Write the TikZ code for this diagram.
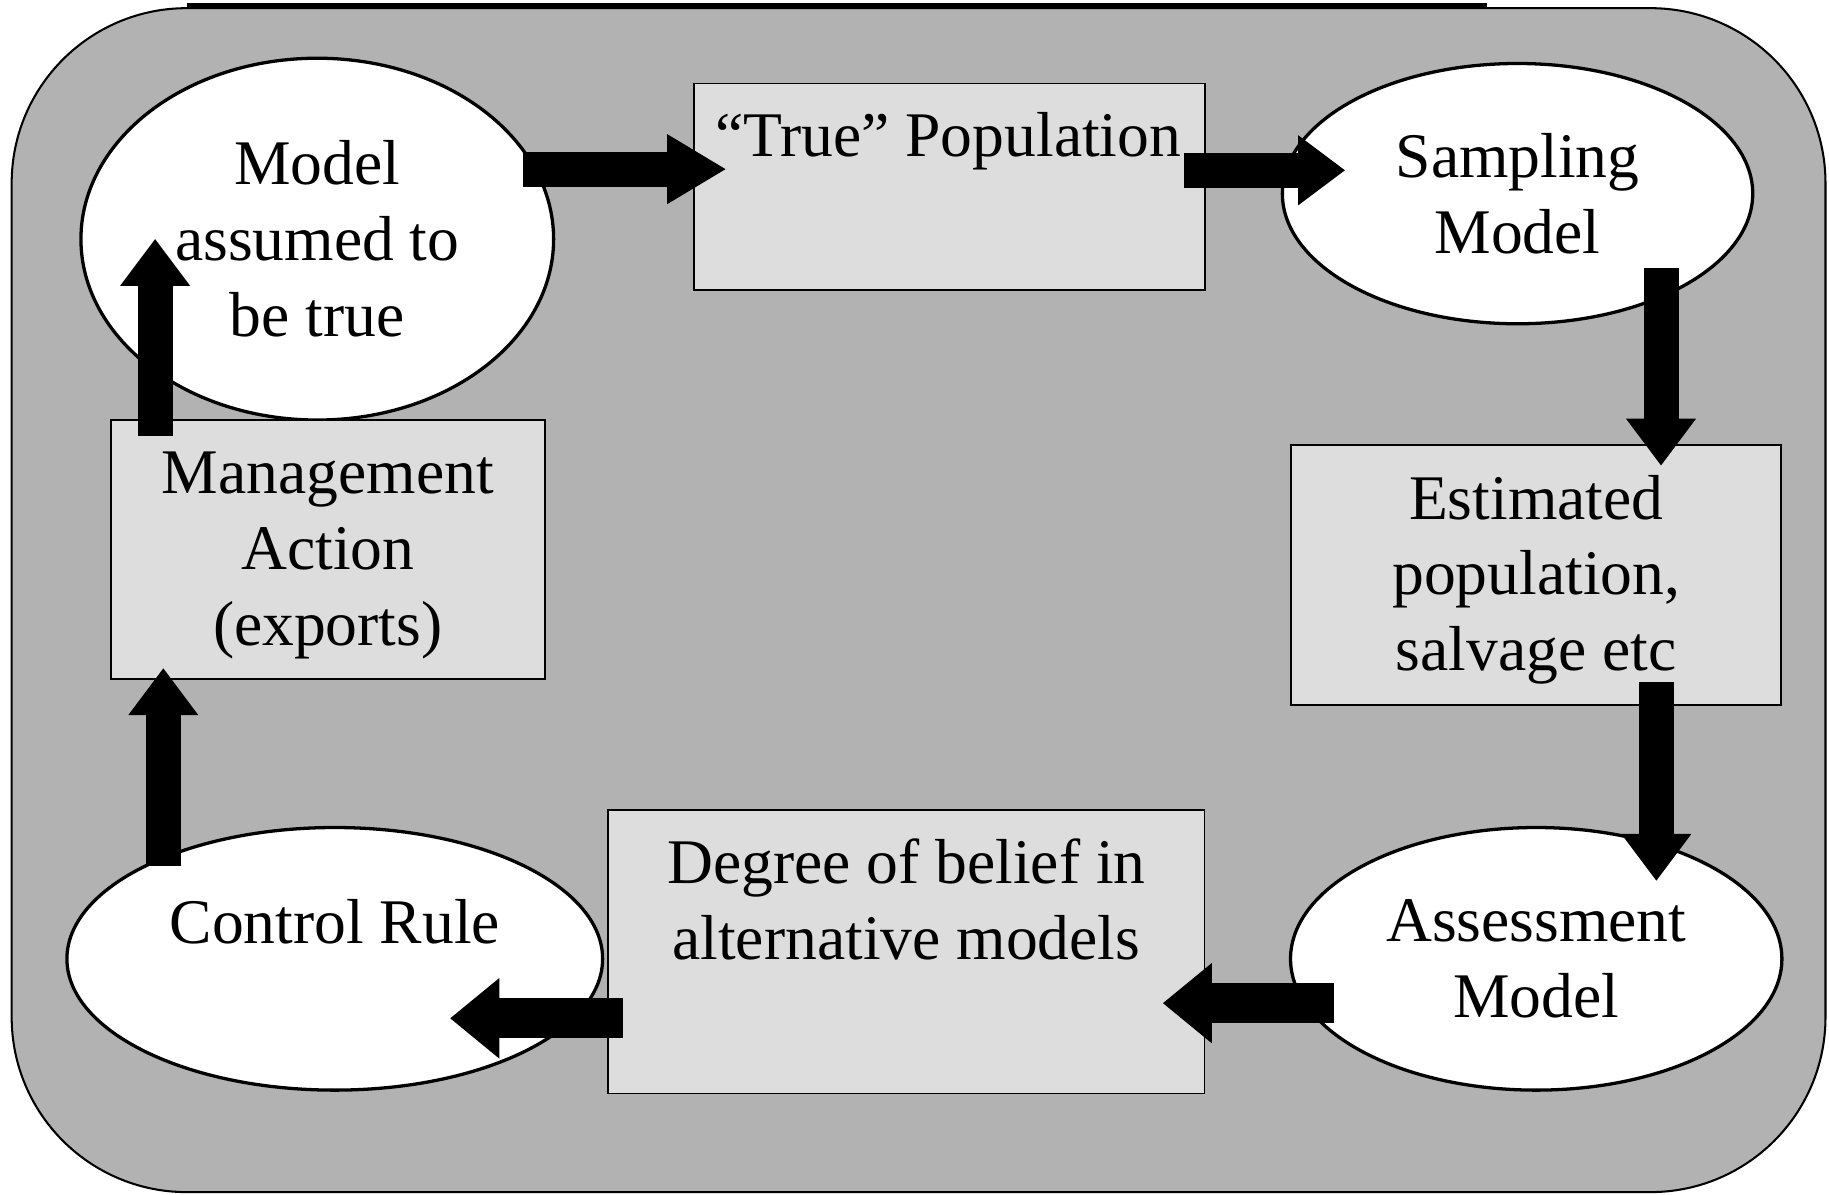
\documentclass[tikz,border=0pt]{standalone}
\usepackage{fontspec}
\setmainfont{Liberation Serif}
\usetikzlibrary{shapes.geometric,arrows.meta}
\definecolor{framegrey}{gray}{0.70}
\definecolor{boxgrey}{gray}{0.867}
\tikzstyle{oval}=[ellipse,draw=black,line width=0.8pt,fill=white,inner sep=0pt,
align=center,font=\fontsize{15.5}{18.5}\selectfont]
\tikzstyle{greybox}=[rectangle,draw=black,line width=0.4pt,fill=boxgrey,inner sep=0pt,
align=center,font=\fontsize{15.5}{18.5}\selectfont]
\tikzstyle{boxtext}=[inner sep=0pt,align=center,font=\fontsize{15.5}{18.5}\selectfont]
\tikzstyle{arrow}=[line width=3mm,-{Triangle[length=4mm,width=6mm,line width=0pt]}]
\tikzstyle{widearrow}=[line width=3.4mm,-{Triangle[length=4.2mm,width=6.9mm,line width=0pt]}]

\begin{document}
\begin{tikzpicture}[x=0.01cm,y=-0.01cm]
    \useasboundingbox (0,0) rectangle (1568,1024);
    \draw [line width=0.9pt] (160,4) -- (1275,4);
    \draw [fill=framegrey,line width=0.5pt,rounded corners=1.5cm] (10,7) rectangle (1565,1022);

        \node (model) [oval,minimum width=4.05cm,minimum height=3.1cm] at (272,205) {Model\\assumed to\\be true};
        \node (truepop) [greybox,minimum width=4.38cm,minimum height=1.77cm] at (814,160) {};
        \node (truepoptext) [boxtext] at (813,121) {“True” Population};
        \node (sampling) [oval,minimum width=4.03cm,minimum height=2.23cm] at (1301,166) {Sampling\\Model};
        \node (estpop) [greybox,minimum width=4.2cm,minimum height=2.23cm] at (1317,493) {};
        \node (estpoptext) [boxtext] at (1317,497) {Estimated\\population,\\salvage etc};
        \node (assess) [oval,minimum width=4.21cm,minimum height=2.25cm] at (1317,822) {Assessment\\Model};
        \node (belief) [greybox,minimum width=5.11cm,minimum height=2.43cm] at (777,816) {};
        \node (belieftext) [boxtext] at (777,771) {Degree of belief in\\alternative models};
        \node (control) [oval,minimum width=4.59cm,minimum height=2.25cm] at (287,822) {};
        \node (controltext) [boxtext] at (287,790) {Control Rule};
        \node (manage) [greybox,minimum width=3.72cm,minimum height=2.22cm] at (281,471) {};
        \node (managetext) [boxtext] at (281,476) {Management\\Action\\(exports)};

        \coordinate (modelout) at (448,145);
        \coordinate (popin) at (622,145);
        \coordinate (popout) at (1015,146);
        \coordinate (samplingin) at (1153,146);
        \coordinate (samplingout) at (1424,230);
        \coordinate (estin) at (1424,399);
        \coordinate (estout) at (1420,585);
        \coordinate (assessin) at (1420,755);
        \coordinate (assessout) at (1144,860);
        \coordinate (beliefin) at (997,860);
        \coordinate (beliefout) at (534,873);
        \coordinate (controlin) at (386,873);
        \coordinate (controlout) at (140,742);
        \coordinate (managein) at (140,573);
        \coordinate (manageout) at (133,374);
        \coordinate (modelin) at (133,205);

        \draw [arrow,-{Triangle[length=5mm,width=6mm,line width=0pt]}] (modelout) -- (popin);
        \draw [arrow] (popout) -- (samplingin);
        \draw [arrow] (samplingout) -- (estin);
        \draw [arrow] (estout) -- (assessin);
        \draw [widearrow] (assessout) -- (beliefin);
        \draw [widearrow] (beliefout) -- (controlin);
        \draw [arrow] (controlout) -- (managein);
        \draw [arrow] (manageout) -- (modelin);

    \end{tikzpicture}
\end{document}
